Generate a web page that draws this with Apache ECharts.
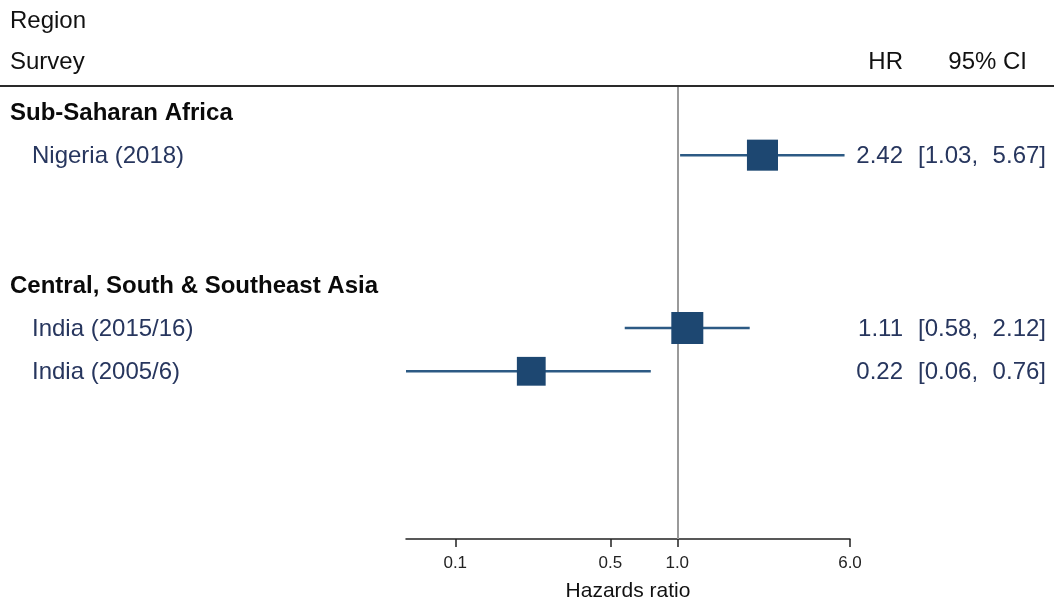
<!DOCTYPE html>
<html><head><meta charset="utf-8">
<script src="https://cdn.jsdelivr.net/npm/echarts@6/dist/echarts.min.js"></script>
<style>html,body{margin:0;padding:0;background:#fff}#c{width:1054px;height:601px}</style>
</head><body><div id="c"></div>
<script>
// ---- data ----
const regions = ['Sub-Saharan Africa', 'Central, South & Southeast Asia'];
const surveys = ['Nigeria (2018)', 'India (2015/16)', 'India (2005/6)'];
const surveyRegion = [0, 1, 1];
const hr = [2.42, 1.11, 0.22];
const ciLow = [1.03, 0.58, 0.06];
const ciHigh = [5.67, 2.12, 0.76];
const weights = [0.97, 1.0, 0.9];
const tickValues = [0.1, 0.5, 1, 6];
const tickLabels = ['0.1', '0.5', '1.0', '6.0'];
const headerLeft = ['Region', 'Survey'];
const headerRight = ['HR', '95% CI'];
const axisTitle = 'Hazards ratio';

// ---- build rows ----
const textRows = [];   // {row, text, bold}
const estRows = [];    // [lo, hi, hr, row, w, idx]
let row = 0;
regions.forEach((reg, r) => {
  textRows.push({row: row, text: reg, bold: true});
  row++;
  surveys.forEach((s, i) => {
    if (surveyRegion[i] !== r) return;
    textRows.push({row: row, text: s, bold: false});
    estRows.push([ciLow[i], ciHigh[i], hr[i], row, weights[i], i]);
    row++;
  });
  row += 2;
});

const fmt = v => v.toFixed(2);
const FONT = '"Liberation Sans", Arial, sans-serif';
const NAVY_TEXT = '#27365e';
const SQUARE = '#1d4771';
const LINE = '#2c5a84';
const BASE_SIZE = 32;
const TXT_DY = 1.5;

const chart = echarts.init(document.getElementById('c'), null, {renderer: 'canvas'});
chart.setOption({
  animation: false,
  backgroundColor: '#ffffff',
  grid: {left: 406, right: 204, top: 86, bottom: 62, containLabel: false, outerBoundsMode: 'none'},
  xAxis: {
    type: 'log', logBase: 10, min: 0.06, max: 6, position: 'bottom',
    axisLine: {show: true, onZero: false, lineStyle: {color: '#222', width: 1.5}},
    axisTick: {show: true, length: 8, lineStyle: {color: '#222', width: 1.5}, customValues: tickValues},
    axisLabel: {
      show: true, customValues: tickValues, margin: 16,
      fontFamily: FONT, fontSize: 17, color: '#222',
      formatter: v => { const k = tickValues.findIndex(t => Math.abs(t - v) < 1e-9); return k >= 0 ? tickLabels[k] : ''; }
    },
    splitLine: {show: false},
    name: axisTitle, nameLocation: 'middle', nameGap: 42,
    nameTextStyle: {fontFamily: FONT, fontSize: 21, color: '#111'}
  },
  yAxis: {type: 'value', inverse: true, min: -0.6, max: 9.88, show: false},
  graphic: [
    {type: 'line', shape: {x1: 0, y1: 86, x2: 1054, y2: 86}, style: {stroke: '#2a2a2a', lineWidth: 2}, z: 10},
    {type: 'text', x: 10, y: 21, style: {text: headerLeft[0], font: '24px ' + FONT, fill: '#111', textVerticalAlign: 'middle'}},
    {type: 'text', x: 10, y: 62, style: {text: headerLeft[1], font: '24px ' + FONT, fill: '#111', textVerticalAlign: 'middle'}},
    {type: 'text', x: 903, y: 62, style: {text: headerRight[0], font: '24px ' + FONT, fill: '#111', textAlign: 'right', textVerticalAlign: 'middle'}},
    {type: 'text', x: 1027, y: 62, style: {text: headerRight[1], font: '24px ' + FONT, fill: '#111', textAlign: 'right', textVerticalAlign: 'middle'}}
  ],
  series: [
    {
      type: 'custom',
      data: estRows,
      encode: {x: [0, 1, 2], y: 3},
      renderItem: (params, api) => {
        const lo = api.value(0), hi = api.value(1), est = api.value(2), r = api.value(3), w = api.value(4);
        const p1 = api.coord([lo, r]), p2 = api.coord([hi, r]), pc = api.coord([est, r]);
        const s = BASE_SIZE * w;
        return {type: 'group', children: [
          {type: 'line', shape: {x1: p1[0], y1: p1[1], x2: p2[0], y2: p2[1]}, style: {stroke: LINE, lineWidth: 2.5}},
          {type: 'rect', shape: {x: pc[0] - s / 2, y: pc[1] - s / 2, width: s, height: s}, style: {fill: SQUARE}}
        ]};
      },
      markLine: {
        silent: true, symbol: 'none', label: {show: false},
        lineStyle: {color: '#9a9a9a', width: 2, type: 'solid'},
        data: [{xAxis: 1}]
      },
      z: 5
    },
    {
      type: 'custom',
      data: estRows,
      encode: {x: 2, y: 3},
      renderItem: (params, api) => {
        const d = estRows[params.dataIndex];
        const y = api.coord([1, d[3]])[1] + TXT_DY;
        const st = {font: '24px ' + FONT, fill: NAVY_TEXT, textVerticalAlign: 'middle'};
        return {type: 'group', children: [
          {type: 'text', x: 903, y: y, style: Object.assign({}, st, {text: fmt(d[2]), textAlign: 'right'})},
          {type: 'text', x: 918, y: y, style: Object.assign({}, st, {text: '[' + fmt(d[0]) + ',', textAlign: 'left'})},
          {type: 'text', x: 1046, y: y, style: Object.assign({}, st, {text: fmt(d[1]) + ']', textAlign: 'right'})}
        ]};
      }
    },
    {
      type: 'custom',
      data: textRows.map(t => [1, t.row]),
      encode: {x: 0, y: 1},
      renderItem: (params, api) => {
        const t = textRows[params.dataIndex];
        const y = api.coord([1, t.row])[1] + TXT_DY;
        return {type: 'text', x: t.bold ? 10 : 32, y: y, style: {
          text: t.text, font: (t.bold ? 'bold ' : '') + '24px ' + FONT,
          fill: t.bold ? '#0a0a0a' : NAVY_TEXT, textAlign: 'left', textVerticalAlign: 'middle'}};
      }
    }
  ]
});
</script>
</body></html>
